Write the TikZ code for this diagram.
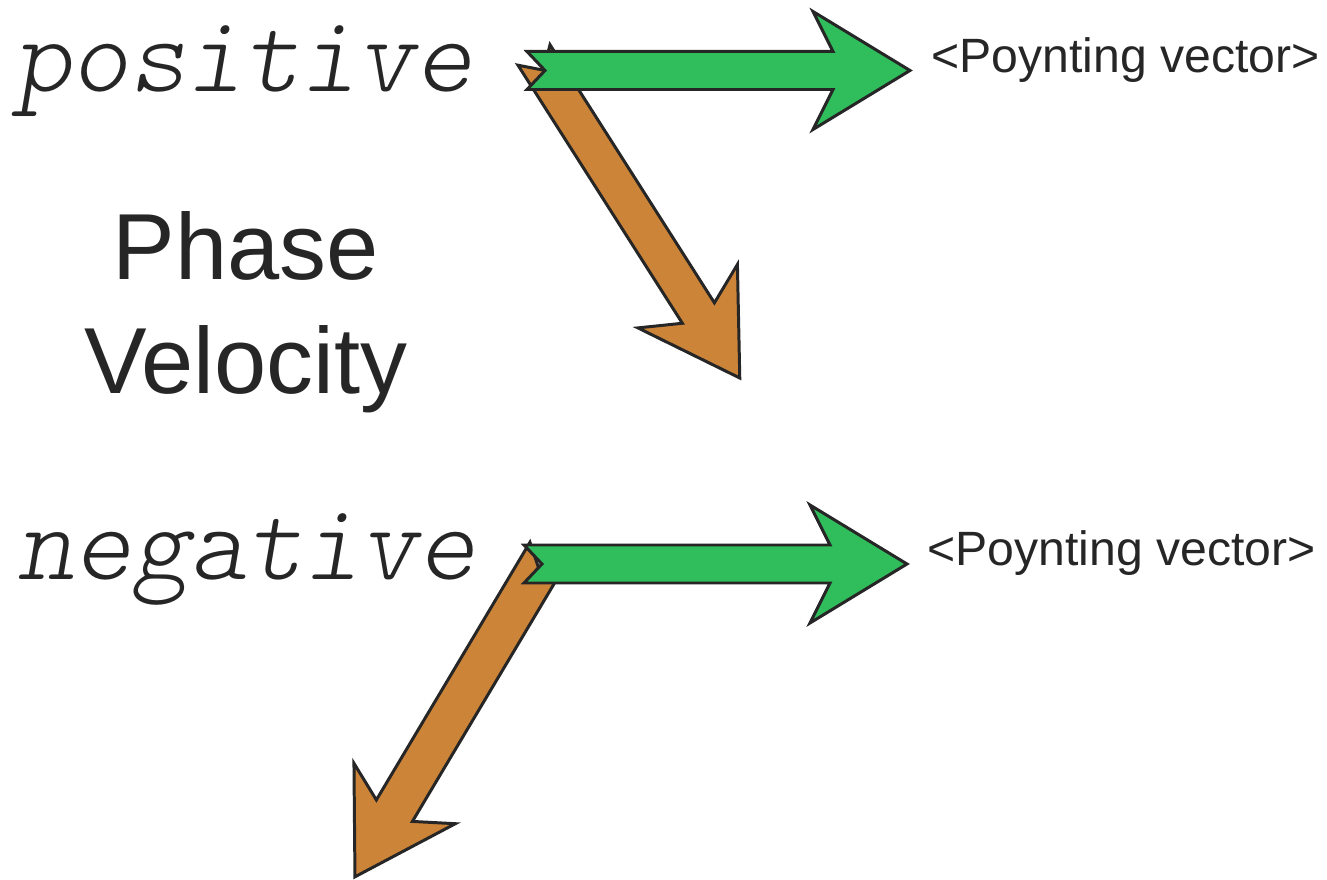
\documentclass[tikz,border=0pt]{standalone}
\usepackage{fontspec}
\setmainfont{Liberation Sans}
\newfontfamily\lightmono{lmmonolt10-oblique.otf}
\definecolor{PoyntGreen}{RGB}{48,189,92}
\definecolor{PhaseOrange}{RGB}{204,132,56}
\usepackage{tikz}
\usetikzlibrary{positioning, calc}

\tikzset{
  pics/blockarrow/.style n args={3}{code={
    \draw[line width=0.85pt, line join=miter, draw=black!85, fill=#1]
      (0,#3) -- (#2-0.77,#3) -- (#2-0.97,0.59) -- (#2,0)
      -- (#2-0.97,-0.59) -- (#2-0.77,-#3) -- (0,-#3) -- (0.18,0) -- cycle;
  }},
  signword/.style={anchor=base west, inner sep=0pt, font=\lightmono\fontsize{31}{33}\selectfont, text=black!85},
  poyntlabel/.style={anchor=base west, inner sep=0pt, font=\fontsize{13.7}{16}\selectfont, text=black!85}
}

\begin{document}
\begin{tikzpicture}
  \useasboundingbox (0,0) rectangle (13.27,8.80);
  % tails of the arrows
  \coordinate (posorange) at (5.34,8.25);
  \coordinate (posgreen)  at (5.27,8.095);
  \coordinate (negorange) at (5.48,3.27);
  \coordinate (neggreen)  at (5.24,3.16);
  % words
  \node[signword] (posword) at (0.14,7.88) {positive};
  \node[signword] (negword) at (0.17,3.00) {negative};
  \node[align=center, inner sep=0pt, text=black!85,
        font=\fontsize{26.7}{32.4}\selectfont] (phasevel) at (2.46,5.68)
        {Phase\\Velocity};
  % positive case
  \pic[rotate=-57.5] at (posorange) {blockarrow={PhaseOrange}{3.83}{0.19}};
  \pic at (posgreen) {blockarrow={PoyntGreen}{3.83}{0.19}};
  \node[poyntlabel] (pospoynt) at (9.31,8.07) {<Poynting vector>};
  % negative case
  \pic[rotate=-120.8] at (negorange) {blockarrow={PhaseOrange}{3.77}{0.21}};
  \pic at (neggreen) {blockarrow={PoyntGreen}{3.83}{0.19}};
  \node[poyntlabel] (negpoynt) at (9.27,3.14) {<Poynting vector>};
\end{tikzpicture}
\end{document}
